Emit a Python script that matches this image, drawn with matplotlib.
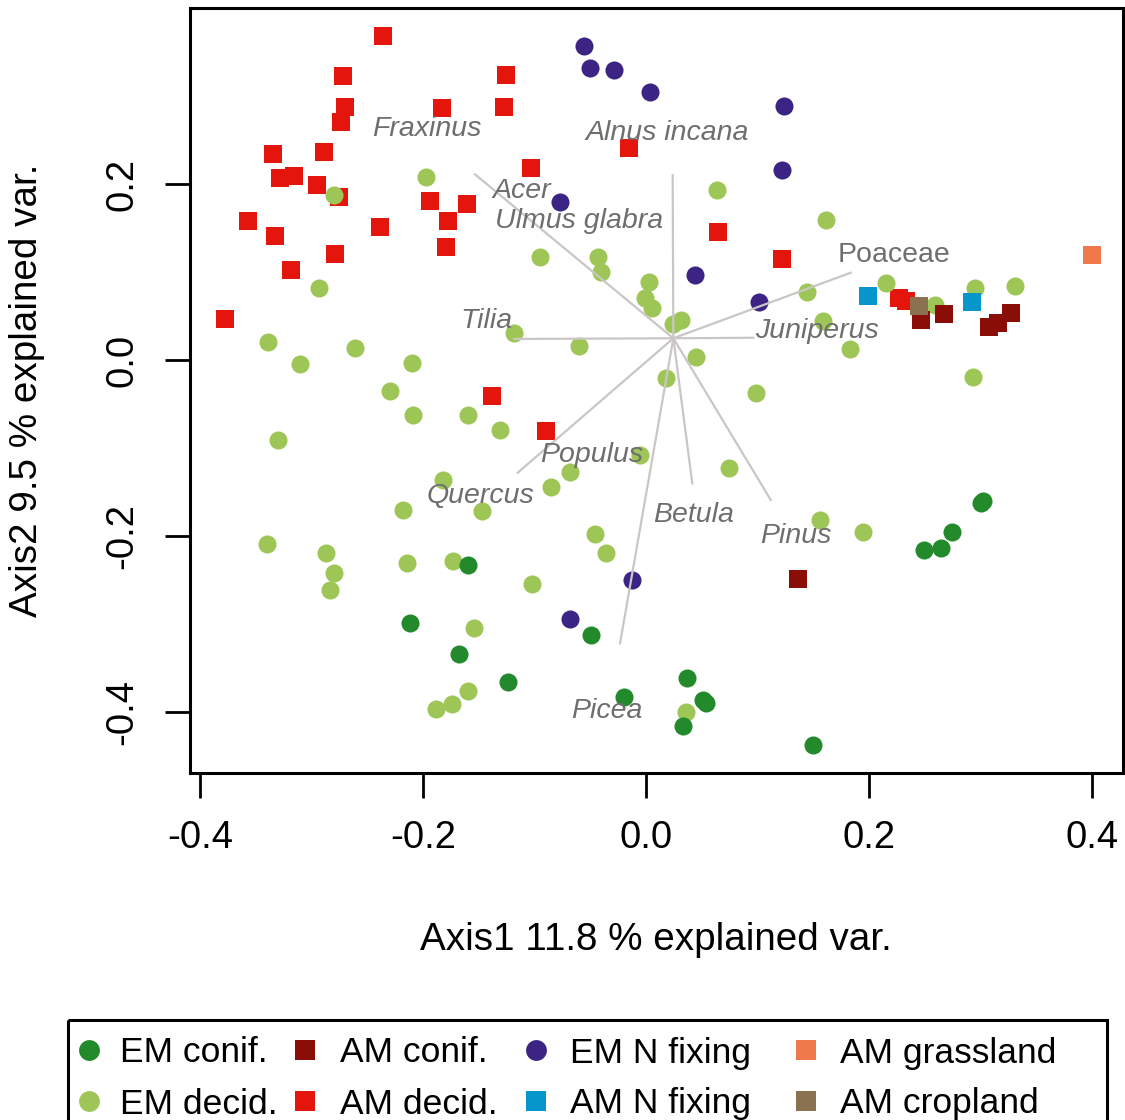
import matplotlib

matplotlib.use("Agg")
import matplotlib.pyplot as plt
from matplotlib.patches import Rectangle

plt.rcParams["font.family"] = ["Liberation Sans", "DejaVu Sans"]
plt.rcParams["axes.unicode_minus"] = False

# --- ordination scores per group (Axis1, Axis2) ---
em_conif_x = [-0.160, -0.212, -0.168, -0.124, -0.049, -0.020, 0.300, 0.302, 0.274,
              0.265, 0.249, 0.037, 0.051, 0.054, 0.033, 0.150]
em_conif_y = [-0.233, -0.299, -0.334, -0.366, -0.313, -0.383, -0.162, -0.160, -0.196,
              -0.214, -0.216, -0.361, -0.386, -0.390, -0.416, -0.438]

em_decid_x = [-0.197, -0.280, -0.293, -0.095, -0.043, -0.040, 0.003, -0.001, 0.005,
              -0.118, -0.060, -0.339, -0.261, -0.310, -0.210, 0.064, 0.161, 0.024,
              0.031, 0.144, 0.215, 0.259, 0.246, 0.295, 0.331, 0.159, 0.183, 0.045,
              0.018, 0.293, -0.230, -0.209, -0.160, -0.131, -0.330, -0.005, -0.068,
              -0.085, -0.182, -0.147, -0.218, -0.340, -0.287, -0.280, -0.283, -0.214,
              -0.173, -0.046, -0.036, -0.102, -0.154, -0.160, -0.174, -0.188, 0.099,
              0.074, 0.156, 0.195, 0.036]
em_decid_y = [0.208, 0.188, 0.082, 0.117, 0.117, 0.100, 0.089, 0.070, 0.059,
              0.031, 0.016, 0.021, 0.014, -0.005, -0.003, 0.193, 0.159, 0.041,
              0.045, 0.077, 0.087, 0.062, 0.053, 0.082, 0.084, 0.044, 0.013, 0.003,
              -0.021, -0.019, -0.035, -0.062, -0.062, -0.080, -0.091, -0.108, -0.127,
              -0.144, -0.136, -0.172, -0.171, -0.209, -0.219, -0.242, -0.261, -0.231,
              -0.228, -0.198, -0.219, -0.255, -0.305, -0.376, -0.391, -0.397, -0.038,
              -0.123, -0.182, -0.195, -0.400]

em_nfix_x = [-0.056, -0.050, -0.029, 0.004, -0.077, 0.124, 0.122, 0.044, 0.101, -0.013, -0.068]
em_nfix_y = [0.357, 0.332, 0.330, 0.304, 0.179, 0.289, 0.216, 0.097, 0.066, -0.250, -0.294]

am_decid_x = [-0.236, -0.272, -0.270, -0.274, -0.183, -0.126, -0.127, -0.335, -0.289,
              -0.328, -0.316, -0.295, -0.275, -0.357, -0.333, -0.279, -0.318, -0.378,
              -0.239, -0.194, -0.161, -0.178, -0.179, -0.103, -0.015, 0.065, 0.122,
              0.227, 0.233, -0.138, -0.090]
am_decid_y = [0.368, 0.323, 0.287, 0.270, 0.286, 0.324, 0.287, 0.234, 0.236,
              0.207, 0.209, 0.199, 0.185, 0.158, 0.141, 0.120, 0.102, 0.047,
              0.151, 0.181, 0.177, 0.158, 0.128, 0.218, 0.241, 0.145, 0.115,
              0.071, 0.067, -0.041, -0.081]

am_conif_x = [0.247, 0.267, 0.308, 0.316, 0.327, 0.136]
am_conif_y = [0.045, 0.052, 0.037, 0.042, 0.053, -0.249]

am_nfix_x = [0.199, 0.292]
am_nfix_y = [0.073, 0.066]

am_grass_x = [0.400]
am_grass_y = [0.119]

am_crop_x = [0.245]
am_crop_y = [0.061]

# --- fitted taxa vectors ---
vec_origin = (0.0245, 0.0247)
vec_end_x = [-0.1534, -0.1184, 0.0239, 0.1836, 0.0962, -0.1151, -0.0233, 0.0415, 0.1119]
vec_end_y = [0.2110, 0.0239, 0.2102, 0.0992, 0.0253, -0.1281, -0.3219, -0.1401, -0.1591]

taxa_labels = ["Fraxinus", "Alnus incana", "Acer", "Ulmus glabra", "Tilia", "Poaceae",
               "Juniperus", "Populus", "Quercus", "Picea", "Betula", "Pinus"]
taxa_x = [-0.1964, 0.0193, -0.1112, -0.0601, -0.1429, 0.2224,
          0.1534, -0.0490, -0.1489, -0.0353, 0.0424, 0.1344]
taxa_y = [0.2545, 0.2500, 0.1837, 0.1503, 0.0360, 0.1117,
          0.0246, -0.1156, -0.1629, -0.4065, -0.1837, -0.2083]

# draw order, legend text, colour, marker
groups = [
    ("AM decid.", am_decid_x, am_decid_y, "#e3150d", "s"),
    ("EM decid.", em_decid_x, em_decid_y, "#9dc656", "o"),
    ("EM conif.", em_conif_x, em_conif_y, "#238a2c", "o"),
    ("EM N fixing", em_nfix_x, em_nfix_y, "#3b2483", "o"),
    ("AM conif.", am_conif_x, am_conif_y, "#8a0e07", "s"),
    ("AM N fixing", am_nfix_x, am_nfix_y, "#0796cc", "s"),
    ("AM grassland", am_grass_x, am_grass_y, "#ef794b", "s"),
    ("AM cropland", am_crop_x, am_crop_y, "#8a7150", "s"),
]
style = {name: (c, m) for name, _, _, c, m in groups}

W, H = 1125, 1120
fig = plt.figure(figsize=(W / 100, H / 100), dpi=100)
ax = fig.add_axes([190 / W, 1 - 773 / H, (1123 - 190) / W, (773 - 8) / H])

for name, xs, ys, c, m in groups:
    ax.plot(xs, ys, linestyle="none", marker=m, markersize=13,
            markerfacecolor=c, markeredgewidth=0, zorder=2)

for ex, ey in zip(vec_end_x, vec_end_y):
    ax.plot([vec_origin[0], ex], [vec_origin[1], ey], color="#cbc6c6", lw=1.6, zorder=3)

for lab, tx, ty in zip(taxa_labels, taxa_x, taxa_y):
    ax.text(tx, ty, lab, ha="center", va="baseline", fontsize=20.5, color="#6e6e6e",
            style="normal" if lab == "Poaceae" else "italic", zorder=4)

ax.set_xlim(-0.4090, 0.4278)
ax.set_ylim(-0.4693, 0.4)
xt = [-0.4, -0.2, 0.0, 0.2, 0.4]
yt = [-0.4, -0.2, 0.0, 0.2]
ax.set_xticks(xt)
ax.set_xticklabels([f"{v:.1f}" for v in xt])
ax.set_yticks(yt)
ax.set_yticklabels([f"{v:.1f}" for v in yt], rotation=90, va="center")
ax.tick_params(direction="out", length=18, width=2, labelsize=27.5, pad=16)
ax.tick_params(axis="y", pad=18)
for sp in ax.spines.values():
    sp.set_linewidth(2.2)

fig.text(656 / W, 1 - 940 / H, "Axis1 11.8 % explained var.", fontsize=27.8,
         ha="center", va="center")
fig.text(27 / W, 1 - 390 / H, "Axis2 9.5 % explained var.", fontsize=27.8,
         ha="center", va="center", rotation=90)

# legend drawn in pixel space, box runs off the bottom edge
lax = fig.add_axes([0, 0, 1, 1])
lax.set_xlim(0, W)
lax.set_ylim(H, 0)
lax.axis("off")
lax.add_patch(Rectangle((68, 1020), 1107 - 68, 140, fill=False, lw=2.2, ec="black"))
legend_order = [["EM conif.", "AM conif.", "EM N fixing", "AM grassland"],
                ["EM decid.", "AM decid.", "AM N fixing", "AM cropland"]]
col_marker = [89, 305, 536, 806]
col_text = [120, 340, 570, 840]
row_y = [1053, 1104]
for r, row in enumerate(legend_order):
    for c, name in enumerate(row):
        color, mk = style[name]
        lax.plot([col_marker[c]], [row_y[r] - 3], marker=mk, markersize=15 if mk == "o" else 14,
                 color=color, markeredgewidth=0, linestyle="none")
        lax.text(col_text[c], row_y[r], name, fontsize=25.5, ha="left", va="center")

fig.savefig("out.png", dpi=100)
